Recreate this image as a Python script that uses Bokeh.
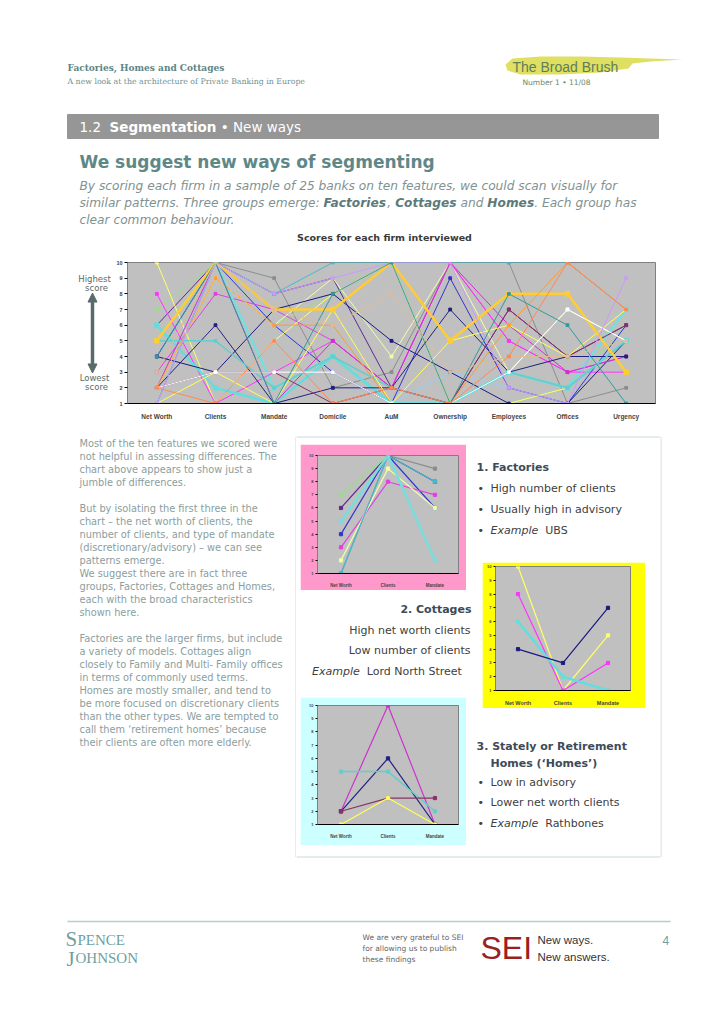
from bokeh.plotting import figure
from bokeh.layouts import row, column
from bokeh.models import Range1d, FactorRange, FixedTicker, Spacer, Arrow, NormalHead
from bokeh.core.properties import value
from bokeh.embed import file_html
from bokeh.resources import INLINE

# ---------------- data ----------------
features = ["Net Worth", "Clients", "Mandate", "Domicile", "AuM",
            "Ownership", "Employees", "Offices", "Urgency"]
score_ticks = [1, 2, 3, 4, 5, 6, 7, 8, 9, 10]

# one entry per firm interviewed (25 banks)
net_worth = [1, 6, 7, 5, 4, 3, 2, 1, 5, 10, 8, 6, 4, 2, 2, 5, 2, 1, 5, 2, 2, 1, 4, 3, 2]
clients   = [10, 10, 10, 10, 10, 8, 9, 10, 10, 1, 1, 2, 3, 10, 6, 5, 3, 3, 10, 9, 3, 10, 10, 10, 1]
mandate   = [9, 8, 6, 6, 6, 7, 6, 8, 2, 5, 3, 1, 7, 1, 1, 2, 3, 1, 7, 6, 3, 8, 1, 7, 5]
domicile  = [2, 9, 8, 3, 3, 5, 9, 10, 4, 8, 5, 4, 8, 5, 2, 4, 1, 7, 7, 6, 3, 9, 8, 6, 1]
aum       = [3, 2, 10, 1, 1, 2, 4, 10, 1, 10, 2, 1, 5, 2, 2, 2, 2, 1, 10, 1, 1, 10, 10, 8, 2]
ownership = [10, 1, 1, 3, 9, 10, 10, 10, 1, 1, 10, 1, 3, 10, 7, 1, 1, 5, 5, 1, 1, 10, 1, 3, 1]
employees = [10, 7, 1, 2, 2, 5, 3, 10, 3, 1, 5, 3, 1, 6, 3, 3, 7, 6, 8, 6, 3, 2, 8, 4, 4]
offices   = [1, 4, 2, 1, 1, 3, 7, 10, 2, 2, 3, 2, 1, 3, 4, 2, 4, 4, 8, 10, 7, 1, 6, 4, 10]
urgency   = [2, 6, 6, 6, 6, 4, 5, 7, 7, 5, 3, 5, 5, 4, 4, 5, 6, 7, 3, 7, 5, 9, 1, 5, 7]

firm_colors = ["#8c8c8c", "#5c2a8c", "#99dd88", "#99ccff", "#3333cc", "#e040e0", "#eeffaa",
               "#44bbcc", "#77dddd", "#ffff66", "#ff33ff", "#66dddd", "#1a1a80", "#cc33cc",
               "#202080", "#66cccc", "#883366", "#ffff55", "#ffcc33", "#ff9933", "#ffffff",
               "#cc99ff", "#339999", "#ddbb99", "#ff8855"]
firm_widths = [1, 1, 1, 1, 1, 1, 1, 1, 2.5, 1, 1, 2.5, 1, 1, 1, 1.5, 1, 1, 2.5, 1, 1, 1, 1, 1, 1]

factories = [0, 1, 2, 3, 4, 5, 6, 7, 8]
cottages = [9, 10, 11, 12]
homes = [13, 14, 15, 16, 17]

feature_values = [net_worth, clients, mandate, domicile, aum, ownership, employees, offices, urgency]

SANS = "DejaVu Sans"
SERIF = "DejaVu Serif"
ARIAL = "Liberation Sans"

REG = {' ': .318, 'a': .613, 'b': .635, 'c': .550, 'd': .635, 'e': .615, 'f': .352, 'g': .635,
       'h': .634, 'i': .278, 'j': .278, 'k': .579, 'l': .278, 'm': .974, 'n': .634, 'o': .612,
       'p': .635, 'q': .635, 'r': .411, 's': .521, 't': .392, 'u': .634, 'v': .592, 'w': .818,
       'x': .592, 'y': .592, 'z': .525, 'A': .684, 'B': .686, 'C': .698, 'D': .770, 'E': .632,
       'F': .575, 'G': .775, 'H': .752, 'I': .295, 'L': .557, 'M': .863, 'N': .748, 'O': .787,
       'P': .603, 'R': .695, 'S': .635, 'T': .611, 'U': .732, 'W': .989, '.': .318, ',': .318,
       ':': .337, '(': .390, ')': .390, '/': .337, '-': .361, '–': .5, '•': .590, "'": .275}
BOLD = {' ': .348, 'a': .675, 'b': .716, 'c': .593, 'd': .716, 'e': .678, 'f': .435, 'g': .716,
        'h': .712, 'i': .343, 'j': .343, 'k': .665, 'l': .343, 'm': 1.042, 'n': .712, 'o': .687,
        'p': .716, 'q': .716, 'r': .493, 's': .595, 't': .478, 'u': .712, 'v': .652, 'w': .924,
        'x': .645, 'y': .652, 'z': .582, 'C': .734, 'F': .683, 'H': .838, 'S': .720, 'E': .683,
        '.': .380, ',': .380, '(': .457, ')': .457}


def measure(s, size, style="normal"):
    tab = BOLD if "bold" in style else REG
    tot = 0.0
    for ch in s:
        if ch.isdigit():
            tot += .696 if tab is BOLD else .636
        else:
            tot += tab.get(ch, .62)
    return tot * size


def canvas(x0, x1, y0, y1):
    p = figure(width=x1 - x0, height=y1 - y0, x_range=Range1d(x0, x1), y_range=Range1d(y1, y0),
               x_axis_location=None, y_axis_location=None, output_backend="svg",
               toolbar_location=None, min_border=0)
    p.grid.visible = False
    p.outline_line_color = None
    p.border_fill_color = "white"
    p.background_fill_color = "white"
    return p


def put(p, x, y, s, size, color, font=SANS, style="normal", align="left"):
    p.text(x=[x], y=[y], text=[s], text_font=value(font), text_font_size=f"{size}px",
           text_font_style=style, text_color=color, text_align=align, text_baseline="middle")


def runs(p, x, y, parts, size, font=SANS, align="left"):
    total = sum(measure(t, size, st) for t, st, c in parts)
    cx = x - total if align == "right" else x
    for t, st, c in parts:
        lead = len(t) - len(t.lstrip(" "))
        if t.strip():
            put(p, cx + measure(t[:lead], size, st), y, t.strip(), size, c, font, st)
        cx += measure(t, size, st)


# ---------------- header ----------------
top = canvas(0, 720, 0, 245)
put(top, 67, 67, "Factories, Homes and Cottages", 9, "#5b8585", SERIF, "bold")
put(top, 67, 81, "A new look at the architecture of Private Banking in Europe", 7.8, "#6f9090", SERIF)
top.patch([505, 512, 540, 580, 620, 650, 682, 650, 632, 628, 600, 560, 520, 507],
          [64, 58, 56, 56, 57, 58, 59, 61, 63, 68, 72, 74, 74, 70],
          fill_color="#dcdc50", fill_alpha=0.9, line_color=None)
put(top, 512, 66, "The Broad Brush", 14, "#5d7d5d", ARIAL)
put(top, 522, 82, "Number 1 • 11/08", 7.5, "#6a8a6a", SANS)
top.quad(left=[67], right=[658], top=[114], bottom=[138], color="#969696")
runs(top, 79, 126.5, [("1.2  ", "normal", "white"), ("Segmentation", "bold", "white"),
                      (" • New ways", "normal", "white")], 13.5)
put(top, 79, 161, "We suggest new ways of segmenting", 17, "#5e8888", SANS, "bold")
PC, PB = "#7f9292", "#5c7a7a"
put(top, 79, 185, "By scoring each firm in a sample of 25 banks on ten features, we could scan visually for",
    12.2, PC, SANS, "italic")
runs(top, 79, 202, [("similar patterns. Three groups emerge: ", "italic", PC), ("Factories", "bold italic", PB),
                    (", ", "italic", PC), ("Cottages", "bold italic", PB), (" and ", "italic", PC),
                    ("Homes", "bold italic", PB), (".  Each group has", "italic", PC)], 12.2)
put(top, 79, 219, "clear common behaviour.", 12.2, PC, SANS, "italic")
put(top, 384, 237, "Scores for each firm interviewed", 9.5, "#3a3a3a", SANS, "bold", "center")

# ---------------- main chart ----------------
lab = canvas(0, 112, 245, 425)
LC = "#5a6b6b"
put(lab, 94, 266, "Highest", 8.5, LC, SANS, "normal", "center")
put(lab, 96, 277, "score", 8.5, LC, SANS, "normal", "center")
put(lab, 94, 393, "Lowest", 8.5, LC, SANS, "normal", "center")
put(lab, 96, 404, "score", 8.5, LC, SANS, "normal", "center")
lab.add_layout(Arrow(x_start=92, y_start=386, x_end=92, y_end=284, line_width=3.5, line_color=LC,
                     start=NormalHead(size=9, fill_color=LC, line_color=LC),
                     end=NormalHead(size=9, fill_color=LC, line_color=LC)))

main = figure(width=608, height=180, x_range=FactorRange(*features), y_range=Range1d(1, 10),
              output_backend="svg", toolbar_location=None,
              min_border_left=15, min_border_right=65, min_border_top=17, min_border_bottom=22)
main.background_fill_color = "#c0c0c0"
main.outline_line_color = "#808080"
main.grid.visible = False
main.xaxis.axis_line_color = "black"
main.xaxis.major_tick_line_color = None
main.xaxis.minor_tick_line_color = None
main.xaxis.major_label_text_font = ARIAL
main.xaxis.major_label_text_font_style = "bold"
main.xaxis.major_label_text_font_size = "6.5px"
main.xaxis.major_label_standoff = 3
main.yaxis.ticker = FixedTicker(ticks=score_ticks)
main.yaxis.axis_line_color = "#808080"
main.yaxis.major_tick_out = 3
main.yaxis.major_tick_in = 0
main.yaxis.minor_tick_line_color = None
main.yaxis.major_label_text_font = ARIAL
main.yaxis.major_label_text_font_style = "bold"
main.yaxis.major_label_text_font_size = "5.5px"
main.yaxis.major_label_standoff = 2
for i in range(len(net_worth)):
    ys = [fv[i] for fv in feature_values]
    main.line(features, ys, line_color=firm_colors[i], line_width=firm_widths[i])
    main.scatter(features, ys, marker="square", size=2.8 if firm_widths[i] < 2 else 4.5,
                 color=firm_colors[i])


def small_chart(group, w, h, border, ml, mr, mt, mb, xfs, yfs):
    cats = features[:3]
    p = figure(width=w, height=h, x_range=FactorRange(*cats), y_range=Range1d(1, 10),
               output_backend="svg", toolbar_location=None,
               min_border_left=ml, min_border_right=mr, min_border_top=mt, min_border_bottom=mb)
    p.border_fill_color = border
    p.background_fill_color = "#c0c0c0"
    p.outline_line_color = "#808080"
    p.grid.visible = False
    p.xaxis.axis_line_color = "black"
    p.xaxis.major_tick_line_color = None
    p.xaxis.minor_tick_line_color = None
    p.xaxis.major_label_text_font = ARIAL
    p.xaxis.major_label_text_font_style = "bold"
    p.xaxis.major_label_text_font_size = f"{xfs}px"
    p.xaxis.major_label_standoff = 3
    p.yaxis.ticker = FixedTicker(ticks=score_ticks)
    p.yaxis.axis_line_color = "#808080"
    p.yaxis.major_tick_out = 2
    p.yaxis.major_tick_in = 0
    p.yaxis.minor_tick_line_color = None
    p.yaxis.major_label_text_font = ARIAL
    p.yaxis.major_label_text_font_style = "bold"
    p.yaxis.major_label_text_font_size = f"{yfs}px"
    p.yaxis.major_label_standoff = 2
    for i in group:
        ys = [net_worth[i], clients[i], mandate[i]]
        p.line(cats, ys, line_color=firm_colors[i], line_width=max(1.2, firm_widths[i]))
        p.scatter(cats, ys, marker="square", size=3.2, color=firm_colors[i])
    return p


# ---------------- lower section ----------------
BOX = "#c8d8d8"
left = canvas(0, 296, 425, 870)
left_lines = ["Most of the ten features we scored were", "not helpful in assessing differences.  The",
              "chart above appears to show just a", "jumble of differences.", "",
              "But by isolating the first three in the", "chart – the net worth of clients, the",
              "number of clients, and type of mandate", "(discretionary/advisory) – we can see",
              "patterns emerge.", "We suggest there are in fact three",
              "groups, Factories, Cottages and Homes,", "each with the broad characteristics",
              "shown here.", "", "Factories are the larger firms, but include",
              "a variety of models.  Cottages align", "closely to Family and Multi- Family offices",
              "in terms of commonly used terms.", "Homes are mostly smaller, and tend to",
              "be more focused on discretionary clients", "than the other types.  We are tempted to",
              "call them ‘retirement homes’ because", "their clients are often more elderly."]
for k, ln in enumerate(left_lines):
    if ln:
        put(left, 79, 443 + 13 * k, ln, 9.8, "#8a9e9e", SANS)
left.segment(x0=[295.5], y0=[436.5], x1=[295.5], y1=[856.5], line_color=BOX, line_width=1)

top_strip = canvas(296, 660, 425, 444)
top_strip.segment(x0=[296], y0=[436.5], x1=[660], y1=[436.5], line_color=BOX, line_width=1)
bottom_strip = canvas(296, 660, 845, 870)
bottom_strip.segment(x0=[296], y0=[856.5], x1=[660], y1=[856.5], line_color=BOX, line_width=1)
edge = canvas(660, 720, 425, 870)
edge.segment(x0=[660.5], y0=[436.5], x1=[660.5], y1=[856.5], line_color=BOX, line_width=1)

pink = small_chart(factories, 166, 146, "#ff99cc", 17, 8, 11, 17, 4.5, 4)
yel = small_chart(cottages, 163, 146, "#ffff00", 13, 15, 4, 17, 5.5, 4)
cyan = small_chart(homes, 166, 148, "#ccffff", 17, 8, 8, 21, 4.5, 4)

TC, BC = "#3d4b57", "#404040"
fact = canvas(472, 660, 444, 562)
put(fact, 476, 467, "1. Factories", 11, TC, SANS, "bold")
for yy, parts in [(488, [("High number of clients", "normal", BC)]),
                  (509, [("Usually high in advisory", "normal", BC)]),
                  (530, [("Example", "italic", BC), ("  UBS", "normal", BC)])]:
    put(fact, 477, yy, "•", 11, BC, SANS)
    runs(fact, 490, yy, parts, 11)

cott = canvas(296, 472, 590, 697)
put(cott, 471, 609, "2. Cottages", 11, TC, SANS, "bold", "right")
put(cott, 470, 630, "High net worth clients", 11, BC, SANS, "normal", "right")
put(cott, 470, 650, "Low number of clients", 11, BC, SANS, "normal", "right")
runs(cott, 462, 671, [("Example", "italic", BC), ("  Lord North Street", "normal", BC)], 11, align="right")

homes_t = canvas(472, 660, 708, 845)
put(homes_t, 476, 746, "3. Stately or Retirement", 11, TC, SANS, "bold")
put(homes_t, 490, 763, "Homes (‘Homes’)", 11, TC, SANS, "bold")
for yy, parts in [(782, [("Low in advisory", "normal", BC)]),
                  (802, [("Lower net worth clients", "normal", BC)]),
                  (823, [("Example", "italic", BC), ("  Rathbones", "normal", BC)])]:
    put(homes_t, 477, yy, "•", 11, BC, SANS)
    runs(homes_t, 490, yy, parts, 11)

col_a = column(row(Spacer(width=4, height=146), pink, Spacer(width=6, height=146)),
               cott,
               row(Spacer(width=4, height=148), cyan, Spacer(width=6, height=148)))
col_b = column(fact,
               row(Spacer(width=10, height=146), yel, Spacer(width=15, height=146)),
               homes_t)
right = column(top_strip, row(col_a, col_b), bottom_strip)
lower = row(left, right, edge)

# ---------------- footer ----------------
foot = canvas(0, 720, 870, 1022)
foot.segment(x0=[67], y0=[921], x1=[670], y1=[921], line_color="#b5cfcf", line_width=1.5)
LOGO = "#6f9f9f"
put(foot, 65, 938, "S", 21, LOGO, "Liberation Serif")
put(foot, 77, 939, "PENCE", 15, LOGO, "Liberation Serif")
put(foot, 66, 958, "J", 21, LOGO, "Liberation Serif")
put(foot, 75, 957, "OHNSON", 15, LOGO, "Liberation Serif")
for k, ln in enumerate(["We are very grateful to SEI", "for allowing us to publish", "these findings"]):
    put(foot, 362, 937 + 11 * k, ln, 7.5, "#666666", SANS)
put(foot, 480, 947, "SEI", 32, "#9a1f1f", ARIAL)
put(foot, 537, 939, "New ways.", 11.5, "#333333", ARIAL)
put(foot, 537, 956, "New answers.", 11.5, "#333333", ARIAL)
put(foot, 662, 940, "4", 12, "#6f9f9f", ARIAL)

page = column(top, row(lab, main), lower, foot)

with open("out.html", "w") as f:
    f.write(file_html(page, INLINE))
